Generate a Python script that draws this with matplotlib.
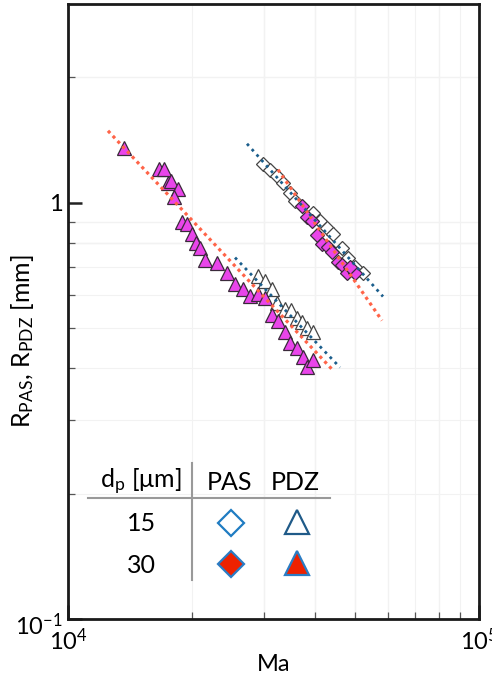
import numpy as np
import matplotlib
matplotlib.use('Agg')
import matplotlib.pyplot as plt
from matplotlib.ticker import FixedLocator, NullFormatter
from matplotlib.transforms import ScaledTranslation

plt.rcParams['font.family'] = ['Lato', 'DejaVu Sans']
plt.rcParams['mathtext.fontset'] = 'custom'
plt.rcParams['mathtext.rm'] = 'Lato'
plt.rcParams['mathtext.it'] = 'Lato:italic'
plt.rcParams['mathtext.bf'] = 'Lato:bold'

# PDZ radius, dp = 30 um
ma_pdz30 = [13690, 16650, 17120, 17510, 17810, 18520, 18110, 18940, 19470, 20040,
            20490, 20960, 21540, 23040, 24370, 25490, 26660, 27720, 28990, 30150,
            31360, 32430, 33730, 34680, 36070, 37310, 38150, 39460]
r_pdz30 = [1.355, 1.206, 1.206, 1.117, 1.129, 1.080, 1.034, 0.900, 0.891, 0.843,
           0.802, 0.780, 0.730, 0.718, 0.676, 0.639, 0.622, 0.598, 0.605, 0.589,
           0.536, 0.521, 0.488, 0.461, 0.447, 0.425, 0.402, 0.420]

# PDZ radius, dp = 15 um
ma_pdz15 = [28990, 30150, 31360, 32250, 33730, 34880, 36070, 37100, 38150, 39460]
r_pdz15 = [0.665, 0.650, 0.622, 0.573, 0.554, 0.551, 0.527, 0.516, 0.501, 0.488]

# PAS radius, dp = 15 um
ma_pas15 = [29820, 31000, 32250, 33350, 34680, 35670, 39460, 41040, 42680, 44140,
            46420, 48010, 49920, 52220]
r_pas15 = [1.240, 1.200, 1.161, 1.117, 1.057, 1.011, 0.946, 0.905, 0.871, 0.843,
           0.780, 0.738, 0.702, 0.676]

# PAS radius, dp = 30 um
ma_pas30 = [37100, 38150, 39250, 40360, 41500, 42920, 43880, 45390, 46420, 47730,
            49920, 48540]
r_pas30 = [0.984, 0.926, 0.905, 0.834, 0.797, 0.784, 0.763, 0.722, 0.710, 0.676,
           0.679, 0.699]

# power-law fit lines (end points)
fit_pdz30_ma, fit_pdz30_r = [12510, 44140], [1.488, 0.3955]
fit_pdz15_ma, fit_pdz15_r = [25490, 45900], [0.738, 0.402]
fit_pas15_ma, fit_pas15_r = [27260, 58400], [1.385, 0.595]
fit_pas30_ma, fit_pas30_r = [32430, 58070], [1.200, 0.521]

red_fit = '#ff6448'
blue_fit = '#1b5e8c'
magenta = '#e945ea'

fig = plt.figure(figsize=(4.92, 6.77), dpi=100)
ax = fig.add_axes([68/492, 58/677, 411/492, 615/677])
ax.set_xscale('log')
ax.set_yscale('log')
ax.set_xlim(1e4, 1e5)
ax.set_ylim(0.1, 3)

# faint minor grid, a few lines drawn a bit stronger
ax.xaxis.set_minor_locator(FixedLocator([k*1e4 for k in range(2, 10)]))
ax.yaxis.set_minor_locator(FixedLocator([k*0.1 for k in range(2, 10)] + [2]))
ax.grid(which='minor', color='#f2f2f2', lw=0.8)
for xv, a in [(3e4, 0.6), (4e4, 0.7), (5e4, 0.6), (6e4, 0.3), (8e4, 0.5)]:
    ax.axvline(xv, color='#b8b8b8', lw=0.8, alpha=a, zorder=0.5)
for yv, a in [(2, 0.5), (0.8, 0.8), (0.9, 0.3)]:
    ax.axhline(yv, color='#b8b8b8', lw=0.8, alpha=a, zorder=0.5)

ax.plot(fit_pdz30_ma, fit_pdz30_r, ls=(0, (1, 1.2)), color=red_fit, lw=2.3, zorder=3)
ax.plot(fit_pas30_ma, fit_pas30_r, ls=(0, (1, 1.2)), color=red_fit, lw=2.3, zorder=3)
ax.plot(fit_pdz15_ma, fit_pdz15_r, ls=(0, (1, 1.6)), color=blue_fit, lw=2.0, zorder=3)
ax.plot(fit_pas15_ma, fit_pas15_r, ls=(0, (1, 1.6)), color=blue_fit, lw=2.0, zorder=3)

ax.plot(ma_pas15, r_pas15, 'D', ms=7, mfc='white', mec='#444444', mew=0.9, zorder=2)
ax.plot(ma_pdz15, r_pdz15, '^', ms=9.5, mfc='white', mec='#444444', mew=0.9, zorder=2)
ax.plot(ma_pas30, r_pas30, 'D', ms=7, mfc=magenta, mec='#3a2a3a', mew=0.9, zorder=2.5)
ax.plot(ma_pdz30, r_pdz30, '^', ms=9.5, mfc=magenta, mec='#3a2a3a', mew=0.9, zorder=2.5)

ax.set_xticks([1e4, 1e5])
ax.set_xticklabels(['10$^4$', '10$^5$'])
ax.set_yticks([0.1, 1])
ax.set_yticklabels(['10$^{\\mathrm{-1}}$', '1'])
ax.xaxis.set_minor_formatter(NullFormatter())
ax.yaxis.set_minor_formatter(NullFormatter())
ax.tick_params(which='both', direction='in', labelsize=17, top=False, right=False)
ax.tick_params(which='major', length=10, width=1.8, color='#222222', pad=4)
ax.tick_params(axis='x', which='major', pad=6)
ax.tick_params(which='minor', length=5, width=0.9, color='#555555')
# the lowest y label sits slightly below the axis corner
low = ax.get_yticklabels()[0]
low.set_transform(low.get_transform() + ScaledTranslation(0, -5/100, fig.dpi_scale_trans))
for s in ax.spines.values():
    s.set_linewidth(2)
    s.set_color('#1a1a1a')

ax.set_xlabel('Ma', fontsize=17, labelpad=0)
ax.set_ylabel(r'R$_{\mathrm{PAS}}$, R$_{\mathrm{PDZ}}$ [mm]', fontsize=18)
ax.yaxis.set_label_coords(-0.078, 0.452)

# symbol table
lg = ax.inset_axes([0.041, 0.055, 0.608, 0.203])
lg.set_xlim(0, 1)
lg.set_ylim(0, 1)
lg.axis('off')
lg.patch.set_alpha(0)
lg.plot([0.012, 0.98], [0.696, 0.696], color='#999999', lw=1.5)
lg.plot([0.428, 0.428], [0.04, 0.976], color='#999999', lw=1.5)
lg.text(0.225, 0.824, r'd$_{\mathrm{p}}$ [μm]', fontsize=18, ha='center', va='center')
lg.text(0.58, 0.824, 'PAS', fontsize=18, ha='center', va='center')
lg.text(0.844, 0.824, 'PDZ', fontsize=18, ha='center', va='center')
lg.text(0.228, 0.496, '15', fontsize=18, ha='center', va='center')
lg.text(0.228, 0.16, '30', fontsize=18, ha='center', va='center')
lg.plot(0.584, 0.496, 'D', ms=13, mfc='white', mec='#1f7cc2', mew=1.6)
lg.plot(0.848, 0.504, '^', ms=17, mfc='white', mec='#1f5a88', mew=1.6)
lg.plot(0.584, 0.168, 'D', ms=13, mfc='#ee2200', mec='#2a7cc4', mew=1.6)
lg.plot(0.848, 0.176, '^', ms=17, mfc='#ee2200', mec='#2a7cc4', mew=1.6)

fig.savefig('out.png', dpi=100)
